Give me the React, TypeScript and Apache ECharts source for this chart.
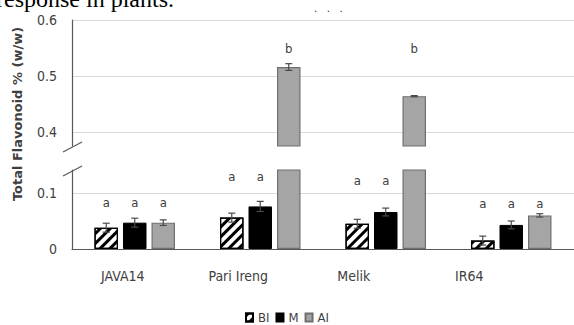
import React, { useEffect, useRef } from "react";
import * as echarts from "echarts";

const categories = ["JAVA14", "Pari Ireng", "Melik", "IR64"];
const seriesNames = ["BI", "M", "AI"];
const biValues = [0.038, 0.056, 0.045, 0.015];
const mValues = [0.047, 0.076, 0.066, 0.043];
const aiValues = [0.047, 0.516, 0.464, 0.06];
const biErrors = [0.008, 0.008, 0.008, 0.008];
const mErrors = [0.008, 0.009, 0.007, 0.007];
const aiErrors = [0.005, 0.006, 0.001, 0.003];
const biLetters = ["a", "a", "a", "a"];
const mLetters = ["a", "a", "a", "a"];
const aiLetters = ["a", "b", "b", "a"];
const groupLetterLevels = [0.083, 0.13, 0.122, 0.082];
const aiLetterLevels = [0.083, 0.55, 0.55, 0.082];
const lowerTicks = [0, 0.1];
const lowerTickLabels = ["0", "0.1"];
const upperTicks = [0.4, 0.5, 0.6];
const upperTickLabels = ["0.4", "0.5", "0.6"];
const lowerRange = [0, 0.141];
const upperRange = [0.375, 0.6];
const yTitle = "Total Flavonoid % (w/w)";

const NARROW = "'Liberation Sans Narrow', 'DejaVu Sans Condensed', 'Arial Narrow', sans-serif";
const BAR_W = 23.5;
const BAR_GAP = 5;
const TXT = "#404040";
const AXIS = "#595959";
const GRIDC = "#d9d9d9";

const styles = [
  {
    color: "#ffffff",
    borderColor: "#000000",
    borderWidth: 1.2,
    decal: {
      symbol: "rect",
      symbolSize: 1,
      color: "#000000",
      backgroundColor: "#ffffff",
      dashArrayX: [1, 0],
      dashArrayY: [3, 4],
      rotation: -Math.PI / 4,
    },
  },
  { color: "#000000", borderColor: "#000000", borderWidth: 1 },
  { color: "#a5a5a5", borderColor: "#6f6f6f", borderWidth: 1.2 },
];

const valuesBy = [biValues, mValues, aiValues];
const errorsBy = [biErrors, mErrors, aiErrors];
const lettersBy = [biLetters, mLetters, aiLetters];
const levelsBy = [groupLetterLevels, groupLetterLevels, aiLetterLevels];

function labelFormatter(ticks: number[], labels: string[]) {
  return (v: number) => {
    for (let i = 0; i < ticks.length; i++) {
      if (Math.abs(v - ticks[i]) < 1e-6) return labels[i];
    }
    return "";
  };
}

export default function App() {
  const ref = useRef<HTMLDivElement>(null);
  useEffect(() => {
    if (!ref.current) return;
    const chart = echarts.init(ref.current, null, { renderer: "svg" });
    const ranges = [upperRange, lowerRange];
    const series: any[] = [];
    const slotStep = BAR_W + BAR_GAP;
    [0, 1].forEach((g) => {
      const [lo, hi] = ranges[g];
      seriesNames.forEach((name, s) => {
        const vals = valuesBy[s];
        series.push({
          type: "bar",
          name,
          xAxisIndex: g,
          yAxisIndex: g,
          barWidth: BAR_W,
          barGap: (BAR_GAP / BAR_W) * 100 + "%",
          itemStyle: styles[s],
          data: g === 0 ? vals.map((v) => (v > lo ? v : "-")) : vals.slice(),
          z: 2,
        });
      });
      seriesNames.forEach((name, s) => {
        const vals = valuesBy[s];
        const errs = errorsBy[s];
        series.push({
          type: "custom",
          xAxisIndex: g,
          yAxisIndex: g,
          z: 5,
          silent: true,
          data: vals.map((v, i) => [i, v, errs[i]]),
          encode: { x: 0, y: 1 },
          renderItem: (params: any, api: any) => {
            const i = api.value(0);
            const v = api.value(1);
            const e = api.value(2);
            if (v < lo || v > hi) return null;
            const top = api.coord([i, v + e]);
            const bot = api.coord([i, v - e]);
            const x = top[0] + (s - 1) * slotStep;
            const cap = 3.5;
            const st = { stroke: "#4a4a4a", lineWidth: 1.2 };
            return {
              type: "group",
              children: [
                { type: "line", shape: { x1: x, y1: top[1], x2: x, y2: bot[1] }, style: st },
                { type: "line", shape: { x1: x - cap, y1: top[1], x2: x + cap, y2: top[1] }, style: st },
                { type: "line", shape: { x1: x - cap, y1: bot[1], x2: x + cap, y2: bot[1] }, style: st },
              ],
            };
          },
        });
        const lv = levelsBy[s];
        const letters = lettersBy[s];
        series.push({
          type: "custom",
          xAxisIndex: g,
          yAxisIndex: g,
          z: 6,
          silent: true,
          data: lv.map((l, i) => [i, l]),
          encode: { x: 0, y: 1 },
          renderItem: (params: any, api: any) => {
            const i = api.value(0);
            const l = api.value(1);
            if (l < lo || l > hi) return null;
            const p = api.coord([i, l]);
            return {
              type: "text",
              x: p[0] + (s - 1) * slotStep,
              y: p[1],
              style: {
                text: letters[params.dataIndex],
                fontSize: 13,
                fontFamily: NARROW,
                fill: TXT,
                align: "center",
                verticalAlign: "middle",
              },
            };
          },
        });
      });
    });

    const option: any = {
      animation: false,
      backgroundColor: "#ffffff",
      grid: [
        { left: 72, top: 20, width: 506, height: 126 },
        { left: 72, top: 170, width: 506, height: 79 },
        { left: 65, top: 170, width: 462, height: 79 },
      ],
      legend: {
        data: seriesNames,
        left: 245,
        top: 311,
        padding: 0,
        itemWidth: 7,
        itemHeight: 8,
        itemGap: 6,
        icon: "rect",
        textStyle: { fontSize: 13, fontFamily: NARROW, color: TXT },
      },
      xAxis: [
        { type: "category", gridIndex: 0, data: categories, show: false },
        {
          type: "category",
          gridIndex: 1,
          data: categories,
          axisLine: { show: true, lineStyle: { color: AXIS, width: 1.2 } },
          axisTick: { show: false },
          axisLabel: { show: false },
        },
        {
          type: "category",
          gridIndex: 2,
          data: categories,
          axisLine: { show: false },
          axisTick: { show: false },
          axisLabel: { margin: 20, fontSize: 14, fontFamily: NARROW, color: TXT },
        },
      ],
      yAxis: [
        {
          type: "value",
          gridIndex: 0,
          min: upperRange[0],
          max: upperRange[1],
          splitNumber: 2,
          minInterval: 0.1,
          maxInterval: 0.1,
          axisLine: { show: true, lineStyle: { color: AXIS, width: 1.2 } },
          axisTick: { show: false },
          splitLine: { show: true, showMinLine: false, lineStyle: { color: GRIDC, width: 1.2 } },
          axisLabel: {
            formatter: labelFormatter(upperTicks, upperTickLabels),
            fontSize: 14,
            fontFamily: NARROW,
            color: TXT,
            margin: 15,
            showMinLabel: false,
          },
        },
        {
          type: "value",
          gridIndex: 1,
          min: lowerRange[0],
          max: lowerRange[1],
          splitNumber: 2,
          minInterval: 0.1,
          maxInterval: 0.1,
          axisLine: { show: true, lineStyle: { color: AXIS, width: 1.2 } },
          axisTick: { show: false },
          splitLine: {
            show: true,
            showMinLine: false,
            showMaxLine: false,
            lineStyle: { color: GRIDC, width: 1.2 },
          },
          axisLabel: {
            formatter: labelFormatter(lowerTicks, lowerTickLabels),
            fontSize: 14,
            fontFamily: NARROW,
            color: TXT,
            margin: 15,
            showMaxLabel: false,
          },
        },
        { type: "value", gridIndex: 2, show: false },
      ],
      series,
      graphic: [
        {
          type: "text",
          x: -4,
          y: -13,
          style: {
            text: "response in plants.",
            fontSize: 24,
            fontFamily: "'Liberation Serif', 'Times New Roman', serif",
            fill: "#000",
          },
        },
        {
          type: "text",
          x: 314,
          y: 3,
          style: { text: ".   .   .", fontSize: 10, fill: "#333", fontFamily: "'DejaVu Sans', sans-serif" },
        },
        {
          type: "text",
          x: 17,
          y: 114,
          rotation: Math.PI / 2,
          style: {
            text: yTitle,
            fontSize: 13,
            fontWeight: "bold",
            fontFamily: "'DejaVu Sans', sans-serif",
            fill: TXT,
            align: "center",
            verticalAlign: "middle",
          },
        },
        {
          type: "line",
          shape: { x1: 63, y1: 152, x2: 82, y2: 142 },
          style: { stroke: AXIS, lineWidth: 1.2 },
        },
        {
          type: "line",
          shape: { x1: 63, y1: 176, x2: 82, y2: 166 },
          style: { stroke: AXIS, lineWidth: 1.2 },
        },
      ],
    };
    chart.setOption(option);
    return () => chart.dispose();
  }, []);
  return (
    <div
      ref={ref}
      style={{ position: "fixed", left: 0, top: 0, width: 574, height: 325, background: "#fff" }}
    />
  );
}
